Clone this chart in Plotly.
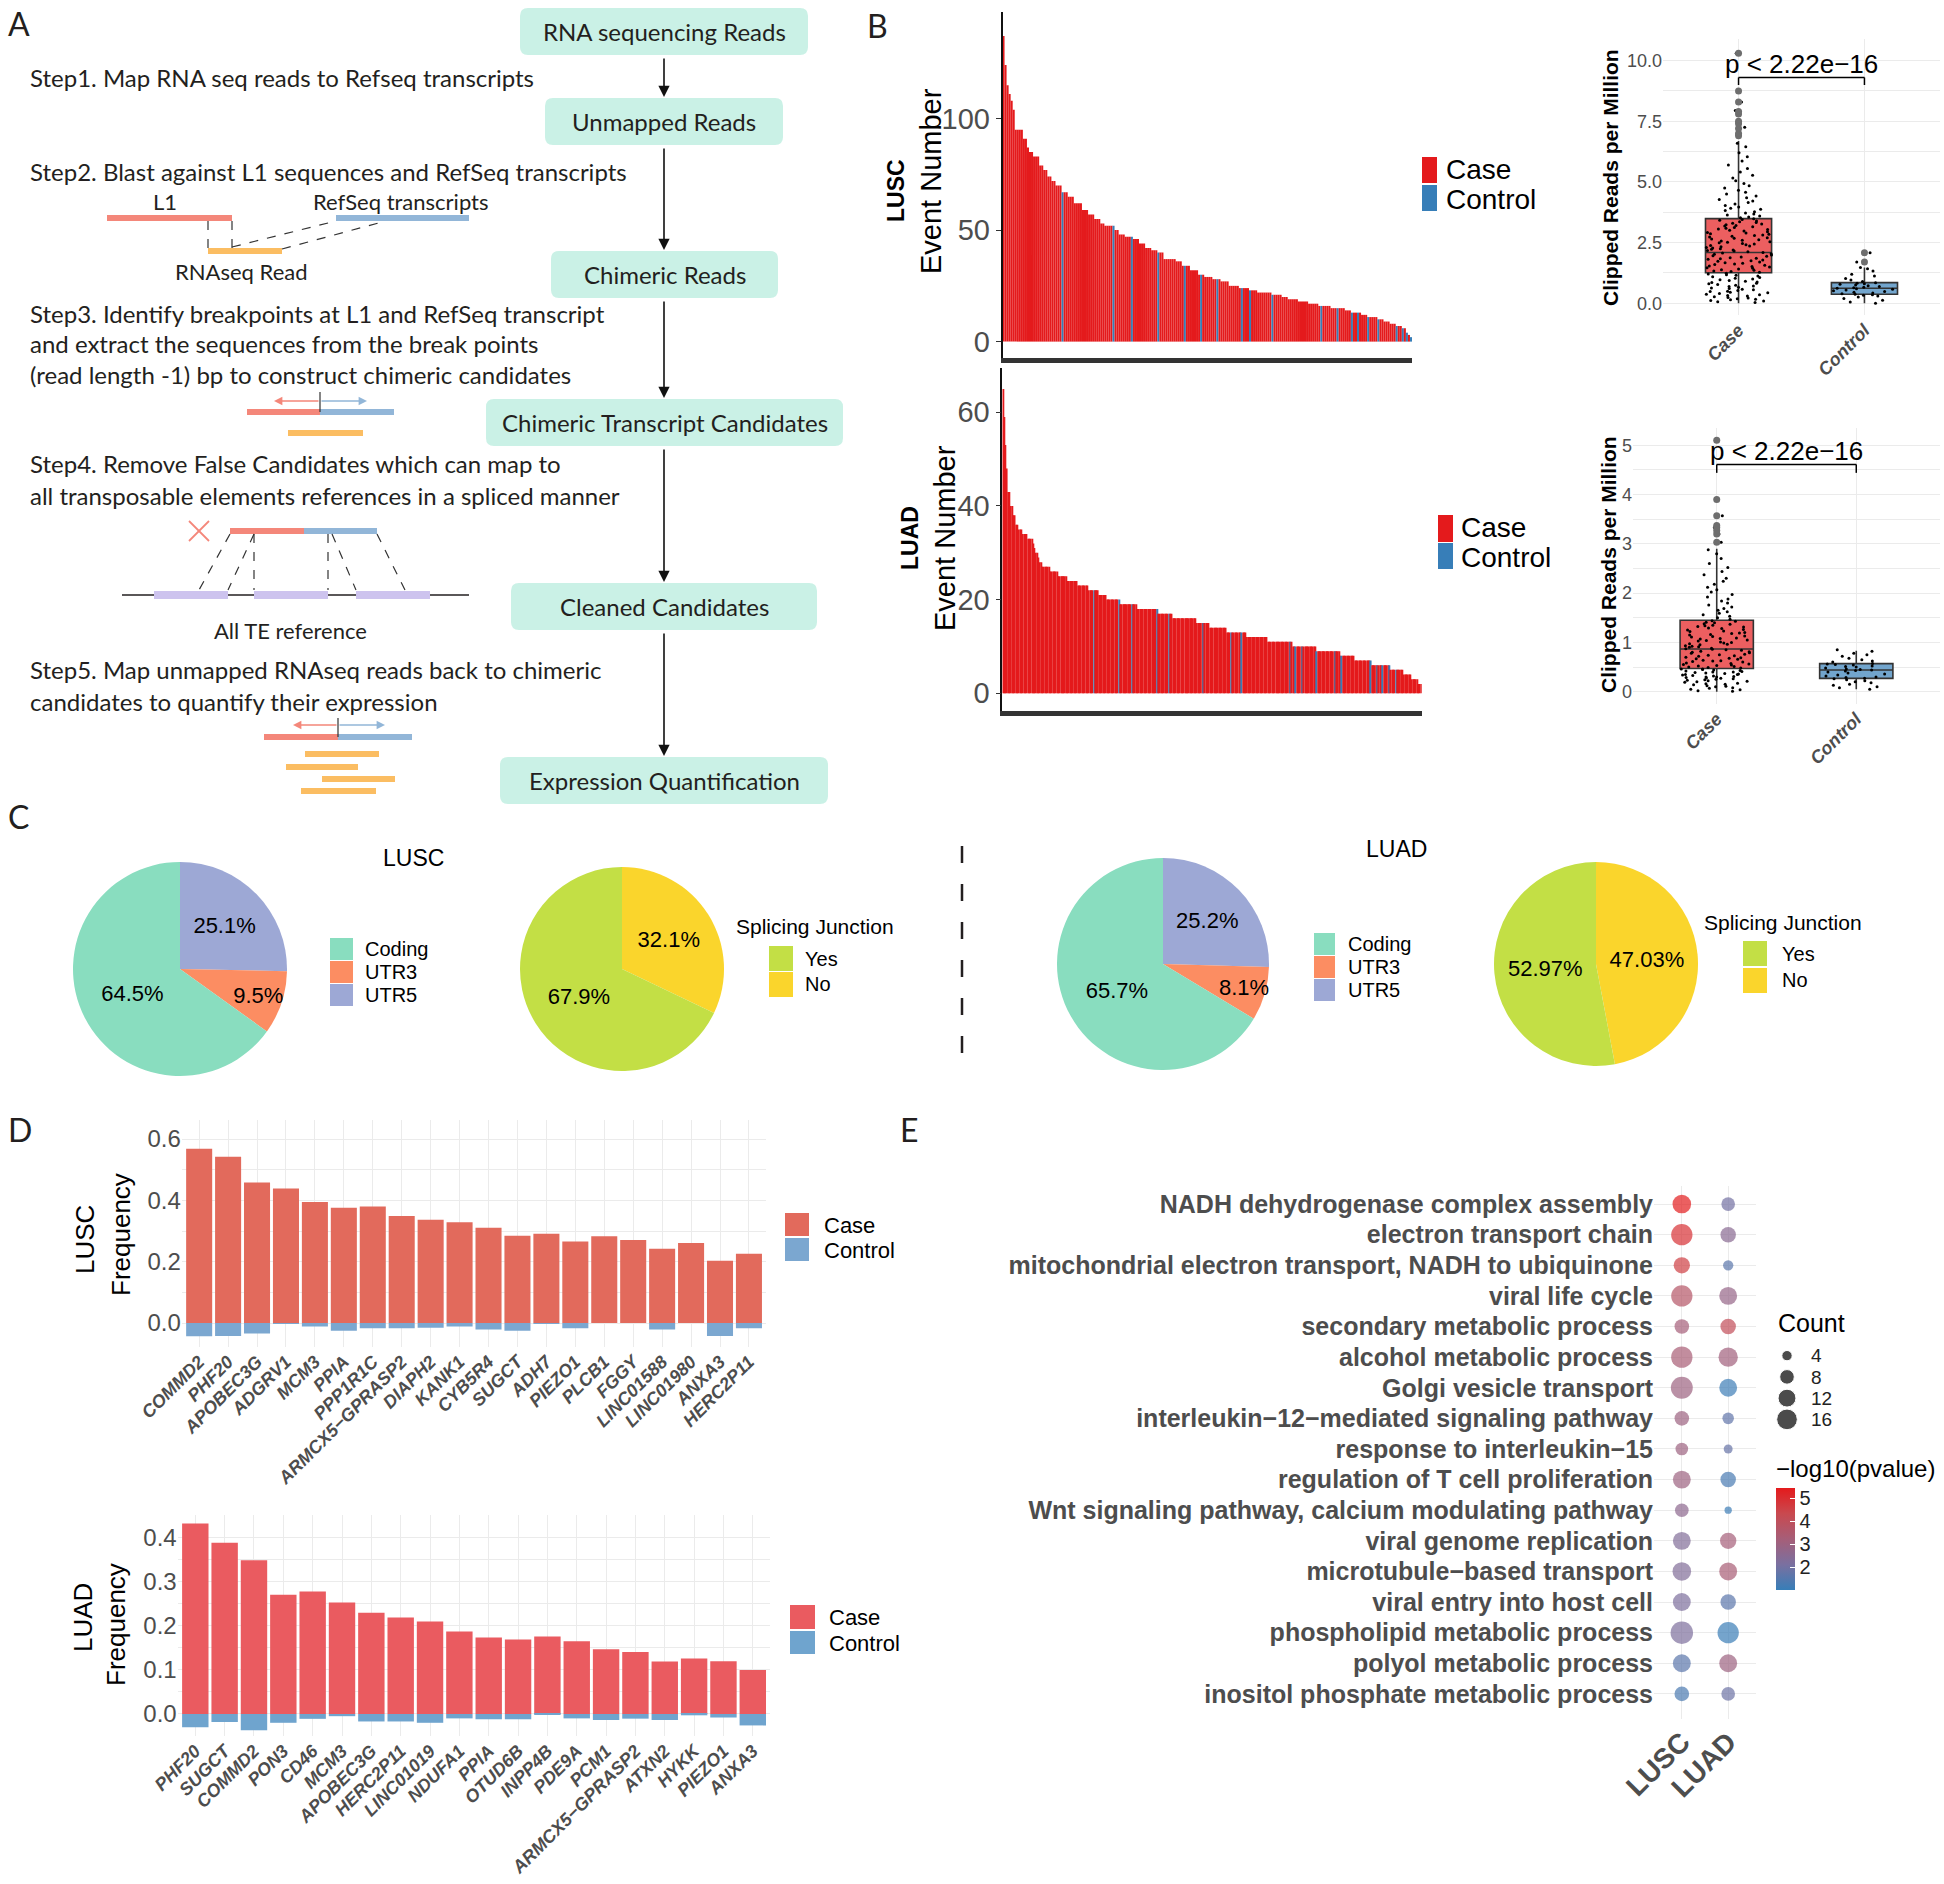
import plotly.graph_objects as go

W, H = 1944, 1884
SANS = "Liberation Sans, Arial, Helvetica, sans-serif"
MYR = "Lato, Open Sans, sans-serif"
INK = "#231f20"
G30 = "#4d4d4d"
GRID = "#ebebeb"

# ---------------- data ----------------
# Panel B: event numbers per sample (run-length: level, number of samples)
lusc_event_levels = [137, 124, 115, 111, 108, 104, 95, 91, 87, 85, 83, 79, 77, 74, 72, 70, 67, 65, 62, 59, 57,
                     55, 53, 52, 50, 48, 47, 46, 44, 42, 41, 40, 37, 36, 34, 32, 30, 29, 28, 27, 25, 24, 23,
                     22, 21, 20, 19, 18, 17, 16, 15, 14, 13, 12, 11, 10, 9, 8, 7, 6, 4, 3, 2]
lusc_event_counts = [1, 1, 1, 1, 1, 1, 4, 2, 1, 2, 3, 2, 2, 2, 2, 3, 3, 3, 4, 3, 3,
                     3, 2, 5, 2, 3, 4, 3, 3, 3, 3, 3, 6, 3, 4, 4, 3, 4, 4, 4, 5, 5, 4,
                     7, 5, 3, 5, 5, 5, 6, 7, 3, 5, 3, 5, 3, 3, 3, 3, 2, 1, 1, 1]
lusc_control_samples = [29, 54, 63, 76, 89, 97, 105, 117, 121, 132, 156, 164, 171, 174, 179, 184, 193, 196, 198, 200]

luad_event_levels = [65, 59, 53, 48, 43, 40, 38, 36, 35, 34, 33, 32, 31, 30, 29, 28, 27, 26, 25, 24, 23, 22, 21,
                     20, 19, 18, 17, 16, 15, 14, 13, 12, 11, 10, 9, 8, 7, 6, 5, 4, 3, 2]
luad_event_counts = [1, 1, 1, 1, 2, 2, 2, 2, 3, 4, 4, 1, 1, 2, 1, 2, 6, 6, 7, 8, 8, 8, 6,
                     10, 13, 16, 11, 18, 10, 13, 15, 16, 19, 18, 18, 11, 13, 14, 10, 6, 5, 3]
luad_control_samples = [69, 88, 98, 117, 126, 152, 173, 181, 218, 222, 227, 238, 252, 257, 279, 284, 288, 293, 298]

groups = ["Case", "Control"]
# box statistics: q1, median, q3, lower whisker, upper whisker
lusc_box = {"Case": [1.26, 2.09, 3.49, 0.0, 6.69], "Control": [0.37, 0.62, 0.85, 0.0, 1.47]}
luad_box = {"Case": [0.47, 0.865, 1.45, 0.0, 2.9], "Control": [0.27, 0.44, 0.57, 0.05, 0.83]}
lusc_outliers = {"Case": [6.9, 7.0, 7.2, 7.4, 7.5, 7.8, 7.9, 8.3, 8.75, 10.3], "Control": [1.7, 2.08]}
luad_outliers = {"Case": [3.03, 3.2, 3.27, 3.33, 3.37, 3.57, 3.9, 5.1], "Control": []}
lusc_case_pts = [0.03, 0.06, 0.09, 0.11, 0.14, 0.17, 0.19, 0.22, 0.24, 0.27, 0.3, 0.32, 0.35, 0.37, 0.4, 0.43, 0.45,
                 0.48, 0.5, 0.53, 0.56, 0.58, 0.61, 0.63, 0.66, 0.69, 0.71, 0.74, 0.77, 0.8, 0.83, 0.86, 0.88, 0.91,
                 0.94, 0.97, 1.0, 1.03, 1.06, 1.09, 1.12, 1.15, 1.18, 1.21, 1.24,
                 1.28, 1.31, 1.33, 1.36, 1.38, 1.41, 1.44, 1.46, 1.49, 1.52, 1.54, 1.57, 1.6, 1.62, 1.65, 1.67, 1.7,
                 1.73, 1.75, 1.78, 1.81, 1.83, 1.86, 1.88, 1.91, 1.94, 1.96, 1.99, 2.02, 2.04, 2.07, 2.09, 2.12,
                 2.15, 2.17, 2.2, 2.23, 2.25, 2.28, 2.3, 2.33, 2.36, 2.38, 2.41, 2.44, 2.46, 2.49, 2.52, 2.54,
                 2.57, 2.6, 2.62, 2.65, 2.68, 2.7, 2.73, 2.76, 2.79, 2.81, 2.84, 2.87, 2.9, 2.92, 2.95, 2.98,
                 3.01, 3.04, 3.06, 3.09, 3.12, 3.15, 3.18, 3.21, 3.24, 3.27, 3.3, 3.33, 3.36, 3.39, 3.42, 3.45,
                 3.48, 3.52, 3.56, 3.6, 3.64, 3.68, 3.72, 3.77, 3.82, 3.87, 3.92, 3.97, 4.03, 4.09, 4.15, 4.21,
                 4.28, 4.35, 4.42, 4.5, 4.58, 4.66, 4.75, 4.84, 4.94, 5.05, 5.16, 5.28, 5.41, 5.55, 5.7, 5.86,
                 6.04, 6.2, 6.45, 6.6, 7.25, 7.4, 7.95, 8.3, 10.3]
lusc_ctrl_pts = [0.0, 0.05, 0.12, 0.2, 0.26, 0.3, 0.33, 0.35, 0.37, 0.39, 0.42, 0.45, 0.48, 0.52, 0.55, 0.58, 0.6,
                 0.62, 0.64, 0.66, 0.69, 0.72, 0.75, 0.78, 0.8, 0.83, 0.85, 0.9, 0.96, 1.02, 1.12, 1.2, 1.33, 1.42,
                 1.47, 1.7, 2.08]
luad_case_pts = [0.01, 0.02, 0.04, 0.05, 0.07, 0.08, 0.1, 0.11, 0.12, 0.14, 0.15, 0.16, 0.17, 0.19, 0.2, 0.21,
                 0.22, 0.23, 0.24, 0.25, 0.26, 0.27, 0.28, 0.29, 0.3, 0.3, 0.31, 0.32, 0.33, 0.34, 0.35, 0.35,
                 0.36, 0.37, 0.38, 0.39, 0.4, 0.4, 0.41, 0.42, 0.43, 0.44, 0.45, 0.46, 0.46,
                 0.48, 0.49, 0.5, 0.51, 0.52, 0.53, 0.54, 0.55, 0.56, 0.57, 0.58, 0.6, 0.61, 0.62, 0.63, 0.64,
                 0.66, 0.67, 0.68, 0.69, 0.7, 0.72, 0.73, 0.74, 0.75, 0.76, 0.78, 0.79, 0.8, 0.81, 0.82, 0.84,
                 0.85, 0.86, 0.87, 0.88, 0.9, 0.91, 0.92, 0.93, 0.95, 0.96, 0.97, 0.99, 1.0, 1.01, 1.03, 1.04,
                 1.05, 1.07, 1.08, 1.09, 1.11, 1.12, 1.13, 1.15, 1.16, 1.18, 1.19, 1.2, 1.22, 1.23, 1.25, 1.26,
                 1.28, 1.29, 1.31, 1.32, 1.34, 1.35, 1.37, 1.38, 1.4, 1.41, 1.43, 1.44,
                 1.47, 1.5, 1.53, 1.56, 1.59, 1.62, 1.65, 1.69, 1.72, 1.76, 1.8, 1.84, 1.88, 1.92, 1.97, 2.02,
                 2.07, 2.12, 2.18, 2.24, 2.3, 2.37, 2.44, 2.52, 2.6, 2.7, 2.8, 2.88, 3.03, 3.2, 3.27, 3.33, 3.57, 5.1]
luad_ctrl_pts = [0.05, 0.08, 0.1, 0.13, 0.15, 0.18, 0.2, 0.22, 0.24, 0.26, 0.27, 0.29, 0.3, 0.32, 0.34, 0.36,
                 0.38, 0.4, 0.42, 0.43, 0.44, 0.45, 0.46, 0.48, 0.5, 0.51, 0.52, 0.54, 0.55, 0.56, 0.57, 0.6,
                 0.62, 0.65, 0.68, 0.72, 0.75, 0.78, 0.82, 0.85]

# Panel C
region_labels = ["Coding", "UTR3", "UTR5"]
lusc_region_pct = [64.5, 9.5, 25.1]
luad_region_pct = [65.7, 8.1, 25.2]
sj_labels = ["Yes", "No"]
lusc_sj_pct = [67.9, 32.1]
luad_sj_pct = [52.97, 47.03]

# Panel D
lusc_genes = ["COMMD2", "PHF20", "APOBEC3G", "ADGRV1", "MCM3", "PPIA", "PPP1R1C", "ARMCX5\u2212GPRASP2", "DIAPH2",
              "KANK1", "CYB5R4", "SUGCT", "ADH7", "PIEZO1", "PLCB1", "FGGY", "LINC01588", "LINC01980", "ANXA3",
              "HERC2P11"]
lusc_case_freq = [0.568, 0.542, 0.458, 0.439, 0.395, 0.376, 0.380, 0.349, 0.337, 0.329, 0.311, 0.285, 0.291,
                  0.266, 0.283, 0.271, 0.242, 0.261, 0.203, 0.226]
lusc_ctrl_freq = [0.043, 0.042, 0.034, 0.001, 0.011, 0.025, 0.017, 0.017, 0.015, 0.011, 0.021, 0.025, 0.003,
                  0.017, 0.0, 0.0, 0.021, 0.0, 0.042, 0.017]
luad_genes = ["PHF20", "SUGCT", "COMMD2", "PON3", "CD46", "MCM3", "APOBEC3G", "HERC2P11", "LINC01019", "NDUFA1",
              "PPIA", "OTUD6B", "INPP4B", "PDE9A", "PCM1", "ARMCX5\u2212GPRASP2", "ATXN2", "HYKK", "PIEZO1", "ANXA3"]
luad_case_freq = [0.4325, 0.389, 0.349, 0.271, 0.278, 0.253, 0.230, 0.219, 0.210, 0.1875, 0.174, 0.169, 0.176,
                  0.165, 0.147, 0.141, 0.119, 0.126, 0.120, 0.0998]
luad_ctrl_freq = [0.030, 0.018, 0.037, 0.020, 0.011, 0.005, 0.017, 0.017, 0.020, 0.010, 0.012, 0.012, 0.0015,
                  0.010, 0.0136, 0.0106, 0.0136, 0.003, 0.008, 0.026]

# Panel E
go_terms = ["NADH dehydrogenase complex assembly", "electron transport chain",
            "mitochondrial electron transport, NADH to ubiquinone", "viral life cycle",
            "secondary metabolic process", "alcohol metabolic process", "Golgi vesicle transport",
            "interleukin\u221212\u2212mediated signaling pathway", "response to interleukin\u221215",
            "regulation of T cell proliferation", "Wnt signaling pathway, calcium modulating pathway",
            "viral genome replication", "microtubule\u2212based transport", "viral entry into host cell",
            "phospholipid metabolic process", "polyol metabolic process", "inositol phosphate metabolic process"]
cohorts = ["LUSC", "LUAD"]
lusc_term_count = [13, 17, 10, 17, 8, 17, 18, 8, 6, 12, 7, 12, 13, 12, 19, 12, 8]
luad_term_count = [7, 9, 4, 12, 9, 14, 12, 5, 3, 9, 2, 10, 12, 9, 17, 12, 7]
lusc_term_logp = [5.4, 4.9, 4.6, 3.7, 3.2, 3.3, 3.0, 3.0, 3.0, 3.0, 2.6, 2.3, 2.3, 2.2, 2.2, 1.6, 1.35]
luad_term_logp = [2.0, 2.5, 1.6, 2.8, 4.1, 3.1, 1.1, 1.7, 1.8, 1.3, 1.1, 3.2, 3.3, 1.6, 1.05, 3.0, 1.9]
count_breaks = [4, 8, 12, 16]

# ---------------- helpers ----------------
def fx(x): return x / W
def fy(y): return 1 - y / H
def dx(a, b): return [a / W, b / W]
def dy(a, b): return [1 - b / H, 1 - a / H]

fig = go.Figure()
shapes, anns = [], []

def T(x, y, s, size, color=INK, family=SANS, xa="left", ya="middle", angle=0, weight=None, style=None):
    f = dict(size=size, color=color, family=family)
    if weight: f["weight"] = weight
    if style: f["style"] = style
    anns.append(dict(x=fx(x), y=fy(y), xref="paper", yref="paper", text=s, showarrow=False, font=f,
                     xanchor=xa, yanchor=ya, textangle=angle))

def L(x0, y0, x1, y1, color, width, dash=None):
    d = dict(color=color, width=width)
    if dash: d["dash"] = dash
    shapes.append(dict(type="line", xref="paper", yref="paper", x0=fx(x0), y0=fy(y0), x1=fx(x1), y1=fy(y1), line=d))

def R(x0, y0, x1, y1, fill):
    shapes.append(dict(type="rect", xref="paper", yref="paper", x0=fx(x0), y0=fy(y1), x1=fx(x1), y1=fy(y0),
                       fillcolor=fill, line=dict(width=0)))

def RR(x0, y0, x1, y1, r, fill):
    P = lambda x, y: f"{fx(x):.5f},{fy(y):.5f}"
    path = (f"M{P(x0+r,y0)} L{P(x1-r,y0)} Q{P(x1,y0)} {P(x1,y0+r)} L{P(x1,y1-r)} Q{P(x1,y1)} {P(x1-r,y1)} "
            f"L{P(x0+r,y1)} Q{P(x0,y1)} {P(x0,y1-r)} L{P(x0,y0+r)} Q{P(x0,y0)} {P(x0+r,y0)} Z")
    shapes.append(dict(type="path", xref="paper", yref="paper", path=path, fillcolor=fill, line=dict(width=0)))

def A(x0, y0, x1, y1, color, width, head=2, size=1.0):
    anns.append(dict(x=fx(x1), y=fy(y1), xref="paper", yref="paper", ax=x0 - x1, ay=y0 - y1,
                     axref="pixel", ayref="pixel", text="", showarrow=True, arrowhead=head, arrowsize=size,
                     arrowwidth=width, arrowcolor=color, standoff=0))

def expand(levels, counts):
    out = []
    for v, c in zip(levels, counts):
        out += [v] * c
    return out

# ---------------- Panel A (schematic) ----------------
MINT = "#caf1e6"; RED_L = "#f4877a"; BLUE_L = "#92b6d8"; ORG_L = "#fbbd62"; LAV = "#cdc3ee"
T(6, 2, "A", 32, family=MYR, ya="top")
flow = [(520, 8, 808, 55, "RNA sequencing Reads"), (545, 98, 783, 145, "Unmapped Reads"),
        (551, 251, 778, 298, "Chimeric Reads"), (486, 399, 843, 446, "Chimeric Transcript Candidates"),
        (511, 583, 817, 630, "Cleaned Candidates"), (500, 757, 828, 804, "Expression Quantification")]
for (a, b, c, d, s) in flow:
    RR(a, b, c, d, 8, MINT)
    T((a + c) / 2, (b + d) / 2, s, 24, family=MYR, xa="center")
for (y0, y1) in [(57, 97), (147, 250), (300, 398), (448, 582), (632, 756)]:
    A(664, y0, 664, y1, "#111", 1.6, head=2, size=1.4)

SF = 24
T(28, 77, "Step1. Map RNA seq reads to Refseq transcripts", SF, family=MYR)
T(28, 172, "Step2. Blast against L1 sequences and RefSeq transcripts", SF, family=MYR)
T(165, 201, "L1", 22, family=MYR, xa="center")
T(401, 201, "RefSeq transcripts", 22, family=MYR, xa="center")
L(107, 218, 232, 218, RED_L, 6); L(336, 218, 469, 218, BLUE_L, 6); L(208, 251, 282, 251, ORG_L, 6)
for (a, b, c, d) in [(208, 221, 208, 248), (232, 221, 232, 248), (232, 247, 336, 221), (282, 249, 386, 221)]:
    L(a, b, c, d, "#333", 1.2, "dash")
T(241, 271, "RNAseq Read", 22, family=MYR, xa="center")
T(28, 313, "Step3. Identify breakpoints at L1 and RefSeq transcript", SF, family=MYR)
T(28, 343, "and extract the sequences from the break points", SF, family=MYR)
T(28, 374, "(read length -1) bp to construct chimeric candidates", SF, family=MYR)
L(247, 412, 320, 412, RED_L, 6); L(320, 412, 394, 412, BLUE_L, 6); L(288, 433, 363, 433, ORG_L, 6)
L(320, 392, 320, 412, "#333", 1.2)
A(320, 401, 274, 401, RED_L, 1.4, head=2, size=1.2); A(320, 401, 367, 401, BLUE_L, 1.4, head=2, size=1.2)
T(28, 464, "Step4. Remove False Candidates which can map to", SF, family=MYR)
T(28, 495, "all transposable elements references in a spliced manner", SF, family=MYR)
L(189, 521, 209, 541, RED_L, 1.8); L(189, 541, 209, 521, RED_L, 1.8)
L(230, 531, 304, 531, RED_L, 6); L(304, 531, 377, 531, BLUE_L, 6)
L(122, 595, 469, 595, INK, 1.5)
for (a, b) in [(154, 228), (254, 328), (356, 430)]:
    L(a, 595, b, 595, LAV, 8)
for (a, b, c, d) in [(230, 534, 199, 590), (254, 534, 228, 590), (254, 534, 254, 590), (328, 534, 328, 590),
                     (332, 534, 356, 590), (377, 534, 405, 590)]:
    L(a, b, c, d, "#333", 1.2, "dash")
T(290, 630, "All TE reference", 22, family=MYR, xa="center")
T(28, 669, "Step5. Map unmapped RNAseq reads back to chimeric", SF, family=MYR)
T(28, 701, "candidates to quantify their expression", SF, family=MYR)
L(264, 737, 338, 737, RED_L, 6); L(338, 737, 412, 737, BLUE_L, 6)
L(338, 718, 338, 737, "#333", 1.2)
A(338, 725, 293, 725, RED_L, 1.4, head=2, size=1.2); A(338, 725, 385, 725, BLUE_L, 1.4, head=2, size=1.2)
for (a, b, y) in [(305, 379, 754), (286, 358, 767), (322, 395, 779), (301, 376, 791)]:
    L(a, y, b, y, ORG_L, 6)

# ---------------- Panel B ----------------
CASE = "#E41A1C"; CTRL = "#377EB8"
T(865, 4, "B", 32, family=MYR, ya="top")
for k, (lev, cnt, ctrl, xa, ya) in enumerate([(lusc_event_levels, lusc_event_counts, lusc_control_samples, "x", "y"),
                                               (luad_event_levels, luad_event_counts, luad_control_samples, "x2", "y2")]):
    vals = expand(lev, cnt)
    cs = set(ctrl)
    idx = list(range(len(vals)))
    fig.add_trace(go.Bar(x=idx, y=vals, width=1.0, xaxis=xa, yaxis=ya,
                         marker=dict(color=[CTRL if i in cs else CASE for i in idx], line=dict(width=0))))
n_lusc = sum(lusc_event_counts); n_luad = sum(luad_event_counts)

BOX_FILL = {"Case": "#EC5F60", "Control": "#72A5CD"}
for (stats, outl, pts, xa, ya) in [(lusc_box, lusc_outliers, {"Case": lusc_case_pts, "Control": lusc_ctrl_pts}, "x3", "y3"),
                                   (luad_box, luad_outliers, {"Case": luad_case_pts, "Control": luad_ctrl_pts}, "x4", "y4")]:
    for g in groups:
        q1, med, q3, lo, hi = stats[g]
        fig.add_trace(go.Box(x=[g], q1=[q1], median=[med], q3=[q3], lowerfence=[lo], upperfence=[hi],
                             orientation="v", fillcolor=BOX_FILL[g], line=dict(color="#333", width=1.6),
                             whiskerwidth=0, boxpoints=False, xaxis=xa, yaxis=ya))
        fig.add_trace(go.Box(x=[g] * len(pts[g]), y=pts[g], boxpoints="all", jitter=1, pointpos=0,
                             fillcolor="rgba(0,0,0,0)", line=dict(color="rgba(0,0,0,0)", width=0),
                             marker=dict(color="black", size=3), xaxis=xa, yaxis=ya))
        if outl[g]:
            fig.add_trace(go.Scatter(x=[g] * len(outl[g]), y=outl[g], mode="markers",
                                     marker=dict(color="#6e6e6e", size=7), xaxis=xa, yaxis=ya))

# brackets + p labels
for (xr, yr, ylo, yhi) in [("x3", "y3", 9.0, 9.31), ("x4", "y4", 4.44, 4.61)]:
    for (a, b, c, d) in [(0, ylo, 0, yhi), (0, yhi, 1, yhi), (1, yhi, 1, ylo)]:
        shapes.append(dict(type="line", xref=xr, yref=yr, x0=a, y0=b, x1=c, y1=d, line=dict(color="black", width=1.5)))
    anns.append(dict(x=0.5, y=yhi, xref=xr, yref=yr, text="p < 2.22e\u221216", showarrow=False,
                     font=dict(size=26, color="black"), xanchor="center", yanchor="bottom", yshift=-4))

T(896, 191, "LUSC", 23, color="black", weight="bold", angle=-90, xa="center")
T(931, 181, "Event Number", 29, color="black", angle=-90, xa="center")
T(910, 538, "LUAD", 23, color="black", weight="bold", angle=-90, xa="center")
T(945, 538, "Event Number", 29, color="black", angle=-90, xa="center")
R(1422, 157, 1437, 183, CASE); R(1422, 185, 1437, 211, CTRL)
T(1444, 170, "Case", 28, color="black"); T(1444, 199, "Control", 28, color="black")
R(1438, 515, 1453, 542, CASE); R(1438, 543, 1453, 569, CTRL)
T(1459, 528, "Case", 28, color="black"); T(1459, 557, "Control", 28, color="black")
T(1611, 178, "Clipped Reads per Million", 21, color="black", weight="bold", angle=-90, xa="center")
T(1608, 565, "Clipped Reads per Million", 21, color="black", weight="bold", angle=-90, xa="center")

# ---------------- Panel C ----------------
T(6, 795, "C", 32, family=MYR, ya="top")
REG_COL = ["#89DDBF", "#FC8D62", "#9DA8D5"]
SJ_COL = ["#C3DF45", "#FAD52C"]
def pie(cx, cy, r, labels, values, colors, tmpl):
    # slices drawn clockwise from 12 o'clock in reverse category order (as in the reference)
    fig.add_trace(go.Pie(labels=labels[::-1], values=values[::-1], sort=False, direction="clockwise", rotation=0,
                         marker=dict(colors=colors[::-1], line=dict(width=0)),
                         domain=dict(x=dx(cx - r, cx + r), y=dy(cy - r, cy + r)),
                         texttemplate=tmpl, textposition="inside", insidetextorientation="horizontal",
                         textfont=dict(size=22, color="black", family=SANS), hoverinfo="label+percent"))
pie(180, 969, 107, region_labels, lusc_region_pct, REG_COL, "%{value:.1f}%")
pie(622, 969, 102, sj_labels, lusc_sj_pct, SJ_COL, "%{value:.1f}%")
pie(1163, 964, 106, region_labels, luad_region_pct, REG_COL, "%{value:.1f}%")
pie(1596, 964, 102, sj_labels, luad_sj_pct, SJ_COL, "%{value:.2f}%")
T(413, 858, "LUSC", 23, color="black", xa="center")
T(1396, 849, "LUAD", 23, color="black", xa="center")
L(962, 846, 962, 1069, INK, 2.5, "17px,21px")
for (kx0, kx1, tx, ys) in [(330, 353, 363, [938, 961, 984]), (1314, 1335, 1346, [933, 956, 979])]:
    for lab, col, y0 in zip(region_labels, REG_COL, ys):
        R(kx0, y0, kx1, y0 + 22, col)
        T(tx, y0 + 11, lab, 20, color="black")
for (tx0, kx0, kx1, tx, ty, ys) in [(734, 769, 793, 803, 927, [946, 972]), (1702, 1743, 1767, 1780, 922, [941, 968])]:
    T(tx0, ty, "Splicing Junction", 21, color="black")
    for lab, col, y0 in zip(sj_labels, SJ_COL, ys):
        R(kx0, y0, kx1, y0 + 25, col)
        T(tx, y0 + 12.5, lab, 20, color="black")

# ---------------- Panel D ----------------
T(6, 1108, "D", 32, family=MYR, ya="top")
D_COL = {"x5": ("#E26A5C", "#7BA7D0"), "x6": ("#EA5B60", "#6FA4CE")}
for (genes, cf, kf, xa, ya) in [(lusc_genes, lusc_case_freq, lusc_ctrl_freq, "x5", "y5"),
                                (luad_genes, luad_case_freq, luad_ctrl_freq, "x6", "y6")]:
    fig.add_trace(go.Bar(x=genes, y=cf, width=0.9, marker=dict(color=D_COL[xa][0], line=dict(width=0)),
                         xaxis=xa, yaxis=ya))
    fig.add_trace(go.Bar(x=genes, y=[-v for v in kf], width=0.9, marker=dict(color=D_COL[xa][1], line=dict(width=0)),
                         xaxis=xa, yaxis=ya))
T(85, 1240, "LUSC", 26, color="black", angle=-90, xa="center")
T(121, 1235, "Frequency", 26, color="black", angle=-90, xa="center")
T(83, 1618, "LUAD", 26, color="black", angle=-90, xa="center")
T(116, 1625, "Frequency", 26, color="black", angle=-90, xa="center")
R(785, 1213, 809, 1236, D_COL["x5"][0]); R(785, 1238, 809, 1261, D_COL["x5"][1])
T(822, 1225, "Case", 22, color="black"); T(822, 1250, "Control", 22, color="black")
R(790, 1605, 815, 1629, D_COL["x6"][0]); R(790, 1631, 815, 1654, D_COL["x6"][1])
T(827, 1617, "Case", 22, color="black"); T(827, 1643, "Control", 22, color="black")

# ---------------- Panel E ----------------
T(898, 1108, "E", 32, family=MYR, ya="top")
E_SCALE = [[0, "#377EB8"], [0.25, "#7A70A0"], [0.5, "#A65E78"], [0.75, "#C9494F"], [1, "#E41A1C"]]
fig.add_trace(go.Scatter(
    x=[cohorts[0]] * len(go_terms) + [cohorts[1]] * len(go_terms), y=go_terms + go_terms, mode="markers",
    marker=dict(size=lusc_term_count + luad_term_count, sizemode="area", sizeref=0.075,
                color=lusc_term_logp + luad_term_logp, colorscale=E_SCALE, cmin=1.0, cmax=5.45,
                line=dict(width=0),
                colorbar=dict(x=fx(1776), xanchor="left", y=fy(1590), yanchor="bottom", len=134, lenmode="pixels",
                              thickness=19, thicknessmode="pixels", outlinewidth=0, xpad=0, ypad=0,
                              tickvals=[2, 3, 4, 5], ticks="inside", tickcolor="white", ticklen=5,
                              tickfont=dict(size=20, color="#222"),
                              title=dict(text="\u2212log10(pvalue)", side="top", font=dict(size=24, color="black")))),
    xaxis="x7", yaxis="y7"))
fig.add_trace(go.Scatter(x=[0] * len(count_breaks), y=[str(c) for c in count_breaks], mode="markers",
                         marker=dict(size=count_breaks, sizemode="area", sizeref=0.075, color="black"),
                         xaxis="x8", yaxis="y8"))
T(1776, 1323, "Count", 25, color="black")

# ---------------- layout ----------------
lay = dict(width=W, height=H, margin=dict(l=0, r=0, t=0, b=0, autoexpand=False), paper_bgcolor="white",
           plot_bgcolor="white", font=dict(family=SANS, color=INK), showlegend=False, barmode="relative",
           boxmode="overlay", boxgap=0.25, uniformtext=dict(minsize=22, mode="show"), shapes=shapes,
           annotations=anns)

ev_y = dict(ticks="outside", ticklen=5, tickcolor="#333", tickwidth=1.2, showline=True, linecolor="#111",
            linewidth=1.5, showgrid=False, zeroline=False, tickfont=dict(size=29, color=G30))
ev_x = dict(showline=True, linewidth=5, linecolor="#333", showticklabels=False, ticks="", showgrid=False,
            zeroline=False)
lay["xaxis"] = dict(domain=dx(1002.5, 1412), range=[-0.5, n_lusc - 0.5], anchor="y", **ev_x)
lay["yaxis"] = dict(domain=dy(12, 358), range=[-7.35, 147.8], anchor="x", tickvals=[0, 50, 100], **ev_y)
lay["xaxis2"] = dict(domain=dx(1002.3, 1421.7), range=[-0.5, n_luad - 0.5], anchor="y2", **ev_x)
lay["yaxis2"] = dict(domain=dy(368, 710.7), range=[-3.72, 69.46], anchor="x2", tickvals=[0, 20, 40, 60], **ev_y)

box_x = dict(type="category", categoryorder="array", categoryarray=groups, range=[-0.6, 1.6], showgrid=True,
             gridcolor=GRID, gridwidth=1.2, ticks="", tickangle=-45, zeroline=False,
             tickfont=dict(size=18, color=G30, weight="bold", style="italic"))
box_y = dict(showgrid=True, gridcolor=GRID, gridwidth=1.2, zeroline=False, ticks="",
             tickfont=dict(size=18, color=G30))
lay["xaxis3"] = dict(domain=dx(1663, 1940), anchor="y3", **box_x)
lay["yaxis3"] = dict(domain=dy(38.8, 315.4), range=[-0.5, 10.9], anchor="x3", tickvals=[0, 2.5, 5, 7.5, 10],
                     ticktext=["0.0", "2.5", "5.0", "7.5", "10.0"],
                     minor=dict(tickvals=[1.25, 3.75, 6.25, 8.75], showgrid=True, gridcolor=GRID, gridwidth=0.8),
                     **box_y)
lay["xaxis4"] = dict(domain=dx(1633, 1940), anchor="y4", **box_x)
lay["yaxis4"] = dict(domain=dy(428, 704), range=[-0.25, 5.35], anchor="x4", tickvals=[0, 1, 2, 3, 4, 5],
                     minor=dict(tickvals=[0.5, 1.5, 2.5, 3.5, 4.5], showgrid=True, gridcolor=GRID, gridwidth=0.8),
                     **box_y)

d_x = dict(type="category", range=[-0.6, 19.6], showgrid=True, gridcolor=GRID, gridwidth=1.2, ticks="",
           tickangle=-45, zeroline=False, tickmode="array",
           tickfont=dict(size=18, color=G30, weight="bold", style="italic"))
d_y = dict(showgrid=True, gridcolor=GRID, gridwidth=1.2, zeroline=False, ticks="", tickfont=dict(size=24, color=G30))
lay["xaxis5"] = dict(domain=dx(181.8, 766.3), anchor="y5", tickvals=lusc_genes, ticktext=lusc_genes,
                     categoryorder="array", categoryarray=lusc_genes, **d_x)
lay["yaxis5"] = dict(domain=dy(1120, 1346.7), range=[-0.077, 0.662], anchor="x5", tickvals=[0, 0.2, 0.4, 0.6],
                     ticktext=["0.0", "0.2", "0.4", "0.6"],
                     minor=dict(tickvals=[0.1, 0.3, 0.5], showgrid=True, gridcolor=GRID, gridwidth=0.8), **d_y)
lay["xaxis6"] = dict(domain=dx(177.7, 770.4), anchor="y6", tickvals=luad_genes, ticktext=luad_genes,
                     categoryorder="array", categoryarray=luad_genes, **d_x)
lay["yaxis6"] = dict(domain=dy(1515, 1736), range=[-0.05, 0.452], anchor="x6", tickvals=[0, 0.1, 0.2, 0.3, 0.4],
                     ticktext=["0.0", "0.1", "0.2", "0.3", "0.4"],
                     minor=dict(tickvals=[-0.05, 0.05, 0.15, 0.25, 0.35, 0.45], showgrid=True, gridcolor=GRID,
                                gridwidth=0.8), **d_y)

lay["xaxis7"] = dict(domain=dx(1654, 1756), anchor="y7", type="category", categoryorder="array",
                     categoryarray=cohorts, range=[-0.6, 1.6], showgrid=True, gridcolor=GRID, gridwidth=1.2,
                     ticks="", tickangle=-45, zeroline=False, tickmode="array", tickvals=cohorts, ticktext=cohorts,
                     tickfont=dict(size=28, color=G30, weight="bold"))
lay["yaxis7"] = dict(domain=dy(1186, 1719), anchor="x7", type="category", categoryorder="array",
                     categoryarray=go_terms, range=[16.82, -0.59], showgrid=True, gridcolor=GRID, gridwidth=1.2,
                     ticks="", zeroline=False, tickmode="array", tickvals=go_terms, ticktext=go_terms,
                     tickfont=dict(size=25, color=G30, weight="bold"))
count_cats = [str(c) for c in count_breaks]
lay["xaxis8"] = dict(domain=dx(1776, 1798), anchor="y8", range=[-1, 1], visible=False)
lay["yaxis8"] = dict(domain=dy(1345, 1430), anchor="x8", type="category", categoryorder="array",
                     categoryarray=count_cats, range=[3.5, -0.5], side="right", tickmode="array",
                     tickvals=count_cats, ticktext=count_cats,
                     showgrid=False, zeroline=False, showline=False, ticks="", ticklabelstandoff=12,
                     tickfont=dict(size=19, color="#222"))

fig.update_layout(**lay)
fig.write_html("out.html", config={"displayModeBar": False},
               post_script="document.body.style.margin='0px';document.body.style.overflow='hidden';")
